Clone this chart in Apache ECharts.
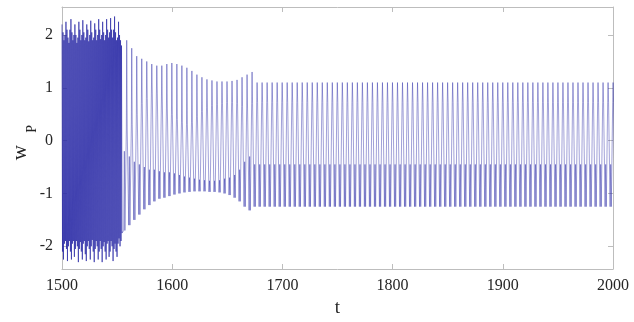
<!DOCTYPE html>
<html>
<head>
<meta charset="utf-8">
<script src="https://cdn.jsdelivr.net/npm/echarts@6/dist/echarts.min.js"></script>
<style>
  html, body { margin: 0; padding: 0; background: #ffffff; }
  #chart { width: 634px; height: 322px; }
</style>
</head>
<body>
<div id="chart"></div>
<script>
// Tick values
const xTicks = [1500, 1600, 1700, 1800, 1900, 2000];
const yTicks = [-2, -1, 0, 1, 2];

// Initial burst (t = 1500 .. 1555): alternating extremes of the fast oscillation
const burstStart = 1500;
const burstStep = 0.9;
const burstPeaks = [
  2.2, 2.05, 1.9, 2.0, 2.25,
  2.1, 1.95, 1.85, 2.1, 2.3,
  2.05, 1.9, 2.0, 2.2, 2.0,
  1.85, 1.95, 2.25, 2.1, 1.9,
  2.0, 2.28, 2.05, 1.9, 1.95,
  2.2, 2.1, 1.88, 2.0, 2.27,
  2.05, 1.9, 1.95, 2.22, 2.1,
  1.9, 2.0, 2.3, 2.1, 1.92,
  2.0, 2.25, 2.05, 1.9, 2.0,
  2.3, 2.1, 1.95, 2.05, 2.32,
  2.1, 1.95, 2.1, 2.35, 2.05,
  1.9, 1.95, 2.25, 2.0, 1.9,
  1.8
];
const burstTroughs = [
  -2.1, -2.25, -1.95, -1.9, -2.05,
  -2.28, -2.0, -1.9, -2.1, -2.25,
  -1.95, -1.9, -2.2, -2.05, -1.9,
  -2.0, -2.3, -2.05, -1.92, -2.1,
  -2.25, -1.95, -1.9, -2.15, -2.28,
  -2.0, -1.9, -2.05, -2.25, -2.0,
  -1.88, -2.1, -2.3, -2.05, -1.9,
  -2.0, -2.25, -2.1, -1.9, -2.05,
  -2.3, -2.0, -1.92, -2.1, -2.25,
  -1.95, -1.9, -2.2, -2.1, -1.9,
  -2.0, -2.28, -2.05, -1.95, -2.1,
  -2.2, -1.95, -1.85, -2.0, -1.9,
  -1.75
];

// Main oscillation cycles after the burst (t = 1556 .. 2000)
const cycleStart = 1556;
const cyclePeriod = 4.55;
// each cycle: top peak, upper shoulder, lower shoulder, bottom
const cycleHigh = [
  1.9, 1.75, 1.6, 1.55, 1.5, 1.45, 1.42, 1.42, 1.45, 1.47,
  1.45, 1.42, 1.38, 1.32, 1.25, 1.2, 1.16, 1.14, 1.12, 1.12,
  1.12, 1.13, 1.15, 1.2, 1.25, 1.3,
  1.1, 1.1, 1.1, 1.1, 1.1, 1.1, 1.1, 1.1, 1.1, 1.1,
  1.1, 1.1, 1.1, 1.1, 1.1, 1.1, 1.1, 1.1, 1.1, 1.1,
  1.1, 1.1, 1.1, 1.1, 1.1, 1.1, 1.1, 1.1, 1.1, 1.1,
  1.1, 1.1, 1.1, 1.1, 1.1, 1.1, 1.1, 1.1, 1.1, 1.1,
  1.1, 1.1, 1.1, 1.1, 1.1, 1.1, 1.1, 1.1, 1.1, 1.1,
  1.1, 1.1, 1.1, 1.1, 1.1, 1.1, 1.1, 1.1, 1.1, 1.1,
  1.1, 1.1, 1.1, 1.1, 1.1, 1.1, 1.1, 1.1, 1.1, 1.1,
  1.1, 1.1, 1.1
];
const cycleUpper = [
  0.2, 0.3, 0.5, 0.7, 0.8, 0.9, 0.9, 0.75, 0.6, 0.5,
  0.4, 0.35, 0.3, 0.35, 0.45, 0.55, 0.62, 0.66, 0.68, 0.7,
  0.72, 0.72, 0.7, 0.65, 0.6, 0.7,
  0.72, 0.72, 0.72, 0.72, 0.72, 0.72, 0.72, 0.72, 0.72, 0.72,
  0.72, 0.72, 0.72, 0.72, 0.72, 0.72, 0.72, 0.72, 0.72, 0.72,
  0.72, 0.72, 0.72, 0.72, 0.72, 0.72, 0.72, 0.72, 0.72, 0.72,
  0.72, 0.72, 0.72, 0.72, 0.72, 0.72, 0.72, 0.72, 0.72, 0.72,
  0.72, 0.72, 0.72, 0.72, 0.72, 0.72, 0.72, 0.72, 0.72, 0.72,
  0.72, 0.72, 0.72, 0.72, 0.72, 0.72, 0.72, 0.72, 0.72, 0.72,
  0.72, 0.72, 0.72, 0.72, 0.72, 0.72, 0.72, 0.72, 0.72, 0.72,
  0.72, 0.72, 0.72
];
const cycleLower = [
  -0.2, -0.3, -0.4, -0.45, -0.5, -0.55, -0.55, -0.58, -0.6, -0.6,
  -0.62, -0.65, -0.68, -0.7, -0.72, -0.74, -0.75, -0.76, -0.76, -0.75,
  -0.72, -0.7, -0.65, -0.55, -0.4, -0.3,
  -0.45, -0.45, -0.45, -0.45, -0.45, -0.45, -0.45, -0.45, -0.45, -0.45,
  -0.45, -0.45, -0.45, -0.45, -0.45, -0.45, -0.45, -0.45, -0.45, -0.45,
  -0.45, -0.45, -0.45, -0.45, -0.45, -0.45, -0.45, -0.45, -0.45, -0.45,
  -0.45, -0.45, -0.45, -0.45, -0.45, -0.45, -0.45, -0.45, -0.45, -0.45,
  -0.45, -0.45, -0.45, -0.45, -0.45, -0.45, -0.45, -0.45, -0.45, -0.45,
  -0.45, -0.45, -0.45, -0.45, -0.45, -0.45, -0.45, -0.45, -0.45, -0.45,
  -0.45, -0.45, -0.45, -0.45, -0.45, -0.45, -0.45, -0.45, -0.45, -0.45,
  -0.45, -0.45, -0.45
];
const cycleLow = [
  -1.7, -1.6, -1.5, -1.4, -1.3, -1.22, -1.15, -1.1, -1.08, -1.05,
  -1.02, -1.0, -0.98, -0.97, -0.96, -0.96, -0.96, -0.97, -0.97, -0.98,
  -1.0, -1.03, -1.08, -1.15, -1.25, -1.32,
  -1.25, -1.25, -1.25, -1.25, -1.25, -1.25, -1.25, -1.25, -1.25, -1.25,
  -1.25, -1.25, -1.25, -1.25, -1.25, -1.25, -1.25, -1.25, -1.25, -1.25,
  -1.25, -1.25, -1.25, -1.25, -1.25, -1.25, -1.25, -1.25, -1.25, -1.25,
  -1.25, -1.25, -1.25, -1.25, -1.25, -1.25, -1.25, -1.25, -1.25, -1.25,
  -1.25, -1.25, -1.25, -1.25, -1.25, -1.25, -1.25, -1.25, -1.25, -1.25,
  -1.25, -1.25, -1.25, -1.25, -1.25, -1.25, -1.25, -1.25, -1.25, -1.25,
  -1.25, -1.25, -1.25, -1.25, -1.25, -1.25, -1.25, -1.25, -1.25, -1.25,
  -1.25, -1.25, -1.25
];

// Assemble the burst and the cycle part of the time series
const burstData = [];
burstPeaks.forEach((p, i) => {
  const t = burstStart + i * burstStep;
  burstData.push([t, p]);
  burstData.push([t + burstStep / 2, burstTroughs[i]]);
});
const cycleData = [burstData[burstData.length - 1]];
cycleHigh.forEach((hi, k) => {
  const t0 = cycleStart + k * cyclePeriod;
  const P = cyclePeriod;
  cycleData.push([t0, cycleLow[k]]);
  cycleData.push([t0 + 0.12 * P, cycleLower[k]]);
  cycleData.push([t0 + 0.24 * P, cycleLow[k]]);
  cycleData.push([t0 + 0.52 * P, cycleUpper[k]]);
  cycleData.push([t0 + 0.60 * P, hi]);
  cycleData.push([t0 + 0.70 * P, cycleUpper[k]]);
});

const axisGrey = '#bdbdbd';
const textColor = '#262626';
const serif = 'Liberation Serif';
const plain = v => String(v);

const chart = echarts.init(document.getElementById('chart'), null, { renderer: 'canvas' });
chart.setOption({
  animation: false,
  backgroundColor: '#ffffff',
  grid: { left: 62, top: 7, width: 551, height: 262, containLabel: false,
    outerBoundsMode: 'none' },
  xAxis: [
    {
      type: 'value', min: 1500, max: 2000, interval: 100, position: 'bottom',
      axisLine: { show: true, onZero: false, lineStyle: { color: axisGrey, width: 1 } },
      axisTick: { show: true, inside: true, length: 5, lineStyle: { color: axisGrey } },
      axisLabel: { color: textColor, fontFamily: serif, fontSize: 16, margin: 9,
        formatter: plain },
      splitLine: { show: false },
      name: 't', nameLocation: 'middle', nameGap: 30,
      nameTextStyle: { color: textColor, fontFamily: serif, fontSize: 19 }
    },
    {
      type: 'value', min: 1500, max: 2000, interval: 100, position: 'top',
      axisLine: { show: true, onZero: false, lineStyle: { color: axisGrey, width: 1 } },
      axisTick: { show: true, inside: true, length: 5, lineStyle: { color: axisGrey } },
      axisLabel: { show: false },
      splitLine: { show: false }
    }
  ],
  yAxis: [
    {
      type: 'value', min: -2.43, max: 2.53, position: 'left',
      axisLine: { show: true, onZero: false, lineStyle: { color: axisGrey, width: 1 } },
      axisTick: { show: true, inside: true, length: 5, lineStyle: { color: axisGrey },
        customValues: yTicks },
      axisLabel: { color: textColor, fontFamily: serif, fontSize: 16, margin: 9,
        customValues: yTicks, formatter: plain },
      splitLine: { show: false }
    },
    {
      type: 'value', min: -2.43, max: 2.53, position: 'right',
      axisLine: { show: true, onZero: false, lineStyle: { color: axisGrey, width: 1 } },
      axisTick: { show: true, inside: true, length: 5, lineStyle: { color: axisGrey },
        customValues: yTicks },
      axisLabel: { show: false },
      splitLine: { show: false }
    }
  ],
  graphic: [
    {
      type: 'text', left: 10, top: 145, rotation: Math.PI / 2,
      style: { text: 'w', fill: textColor, font: '21px "Liberation Serif"' }
    },
    {
      type: 'text', left: 25, top: 125, rotation: Math.PI / 2,
      style: { text: 'P', fill: textColor, font: '14px "Liberation Serif"' }
    }
  ],
  series: [
    {
      type: 'line', xAxisIndex: 0, yAxisIndex: 0,
      data: burstData, showSymbol: false, symbol: 'none',
      lineStyle: { color: '#2626a4', width: 0.8, opacity: 0.85 },
      clip: true
    },
    {
      type: 'line', xAxisIndex: 0, yAxisIndex: 0,
      data: cycleData, showSymbol: false, symbol: 'none',
      lineStyle: { color: '#2d2da8', width: 0.6, opacity: 0.75 },
      clip: true
    }
  ]
});
</script>
</body>
</html>
